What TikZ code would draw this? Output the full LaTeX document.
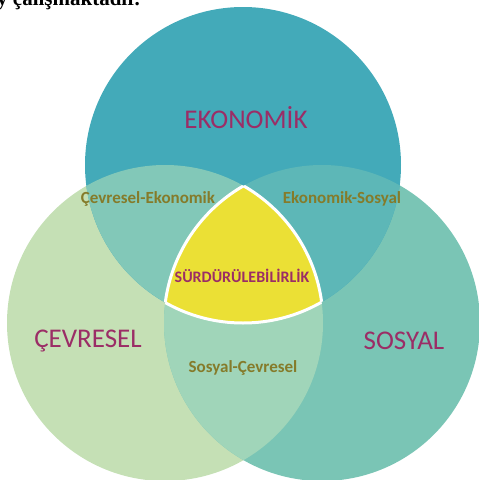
\documentclass[tikz,border=0pt]{standalone}
\usepackage{fontspec}
\setmainfont{Liberation Serif}
\newfontfamily\vennfont{Carlito}
\definecolor{ekoRenk}{HTML}{43AAB9}
\definecolor{cevRenk}{HTML}{C5E0B5}
\definecolor{sosRenk}{HTML}{7AC5B5}
\definecolor{ekoCev}{HTML}{82C8B8}
\definecolor{ekoSos}{HTML}{5DB7B7}
\definecolor{sosCev}{HTML}{A0D5B9}
\definecolor{sari}{HTML}{EBE035}
\definecolor{mor}{HTML}{9B2D66}
\definecolor{zeytin}{HTML}{857B2A}
\begin{document}
\begin{tikzpicture}[x=1pt,y=-1pt,line join=round,
	ana/.style={font=\vennfont\fontsize{27}{27}\selectfont,text=mor},
	ara/.style={font=\vennfont\bfseries\fontsize{17}{17}\selectfont,text=zeytin}]
	\def\r{158} %yaricap
	\def\cT{(243,165) circle (\r)} \def\cL{(165,323) circle (\r)} \def\cR{(322,323) circle (\r)}
	\useasboundingbox (0,0) rectangle (479,480);
	\begin{scope}
		\clip (0,0) rectangle (479,480);
		% ust satir (kesik)
		\node[anchor=base west,inner sep=0pt,font=\bfseries\fontsize{21}{21}\selectfont] (ust) at (-3,5) {y çalışmaktadır.};
		\fill[cevRenk] \cL;
		\fill[sosRenk] \cR;
		\fill[ekoRenk] \cT;
		\begin{scope} \clip \cL; \fill[sosCev] \cR; \end{scope}
		\begin{scope} \clip \cT; \fill[ekoCev] \cL; \end{scope}
		\begin{scope} \clip \cT; \fill[ekoSos] \cR; \end{scope}
		% orta bolge
		\begin{scope} \clip \cT; \clip \cL; \fill[sari] \cR; \end{scope}
		\begin{scope} \clip \cL; \clip \cR; \draw[white,line width=3pt] \cT; \end{scope}
		\begin{scope} \clip \cT; \clip \cR; \draw[white,line width=3pt] \cL; \end{scope}
		\begin{scope} \clip \cT; \clip \cL; \draw[white,line width=3pt] \cR; \end{scope}
	\end{scope}
	\node[ana] (eko) at (246,118) {EKONOMİK};
	\node[ana] (cev) at (88,341) {ÇEVRESEL};
	\node[ana] (sos) at (404,341) {SOSYAL};
	\node[ara] (cevEko) at (148,199) {Çevresel-Ekonomik};
	\node[ara] (ekoSosL) at (342,199) {Ekonomik-Sosyal};
	\node[ara] (sosCevL) at (243,368) {Sosyal-Çevresel};
	\node[ara,text=mor,font=\vennfont\bfseries\fontsize{16}{16}\selectfont] (surd) at (242,276) {SÜRDÜRÜLEBİLİRLİK};
\end{tikzpicture}
\end{document}
